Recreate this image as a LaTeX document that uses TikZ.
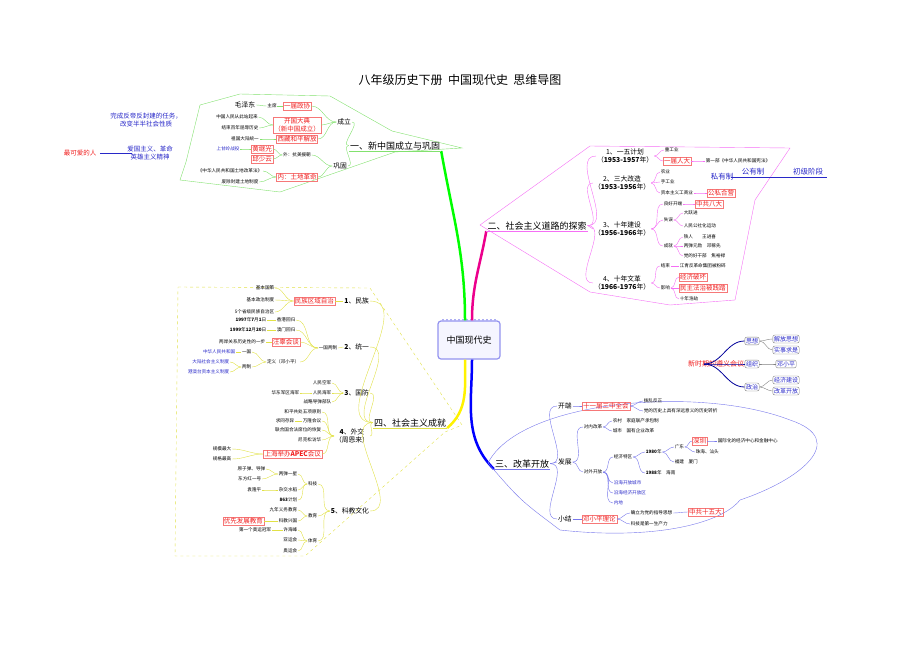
\documentclass[tikz,border=0pt]{standalone}
\usepackage{fontspec}
\setmainfont{Noto Sans CJK SC}
\usetikzlibrary{positioning}
\tikzset{>=latex}
\definecolor{mygreen}{RGB}{130,225,110}
\definecolor{mymagenta}{RGB}{245,110,245}
\definecolor{myblue}{RGB}{120,120,235}
\definecolor{myyellow}{RGB}{225,225,70}
\definecolor{myred}{RGB}{240,30,30}
\definecolor{myink}{RGB}{40,40,200}
\tikzset{
  lf/.style={inner sep=0.6pt,font=\fontsize{4.6}{5.4}\selectfont},
  md/.style={inner sep=0.8pt,font=\fontsize{6.8}{8}\selectfont,align=center},
  sec/.style={inner sep=1pt,font=\fontsize{9}{10}\selectfont},
  rd/.style={draw=myred!60,inner sep=1pt,text=myred,font=\fontsize{6.5}{7.5}\selectfont,align=center},
  bl/.style={lf,text=myink},
  rbx/.style={draw=gray,rounded corners=2pt,inner sep=1.2pt,text=myink,font=\fontsize{6}{7}\selectfont},
}
\begin{document}
\begin{tikzpicture}[x=1pt,y=-1pt]
  \useasboundingbox (0,0) rectangle (920,651);

  % title
  \node[font=\fontsize{12}{14}\selectfont] (title) at (460,80) {八年级历史下册\ \ 中国现代史\ \ 思维导图};

  % centre
  \node[draw=myblue!80,very thick,fill=blue!4,rounded corners=3pt,minimum width=62,minimum height=38,
    font=\fontsize{9}{10}\selectfont] (root) at (469,340) {中国现代史};
  \draw[myblue!60,dotted,line width=2pt] ([xshift=5]root.north west) -- ([xshift=-5]root.north east);

  % main branches
  \node[sec,anchor=south] (s1) at (395,151) {一、新中国成立与巩固};
  \node[sec,anchor=south] (s2) at (537,231) {二、社会主义道路的探索};
  \node[sec,anchor=south] (s3) at (522,469) {三、改革开放};
  \node[sec,anchor=south] (s4) at (410,428) {四、社会主义成就};
  \draw[green,line width=2.5pt] ([xshift=-4]root.north) to[out=90,in=-80] (s1.south east);
  \draw[magenta,line width=2.5pt] ([xshift=3]root.north) to[out=90,in=-100] (s2.south west);
  \draw[blue,line width=2.5pt] ([xshift=3]root.south) to[out=-90,in=135] (s3.south west);
  \draw[yellow,line width=2.5pt] ([xshift=-4]root.south) to[out=-90,in=40] (s4.south east);
  \foreach \s/\c in {s1/mygreen,s2/mymagenta,s3/myblue,s4/myyellow}
    \draw[\c] (\s.south west) -- (\s.south east);

  % ---------- 一 ----------
  \draw[mygreen] (200,105) -- (240,94) -- (330,96) -- (392,131) -- (462,148) -- (395,152)
    -- (280,192) -- (180,180) -- (186,162) -- cycle;
  \node[md,anchor=east] (a1) at (352,122) {成立};
  \node[md,anchor=east] (a2) at (348,166) {巩固};
  \node[rd] (a11) at (297,106) {一届政协};
  \node[lf] (a111) at (272,106) {主席};
  \node[md] (a112) at (245,105) {毛泽东};
  \node[rd] (a12) at (297,125) {开国大典\\（新中国成立）};
  \node[lf] (a121) at (237,117) {中国人民从此站起来};
  \node[lf] (a122) at (240,128) {结束百年屈辱历史};
  \node[rd] (a13) at (297,139) {西藏和平解放};
  \node[lf] (a131) at (245,139) {祖国大陆统一};
  \node[lf] (a21) at (297,155) {外：抗美援朝};
  \node[rd] (a211) at (262,149) {黄继光};
  \node[rd] (a212) at (262,159) {邱少云};
  \node[bl] (a2111) at (228,149) {上甘岭战役};
  \node[rd] (a22) at (297,177) {内：土地革命};
  \node[lf] (a221) at (230,171) {《中华人民共和国土地改革法》};
  \node[lf] (a222) at (240,182) {废除封建土地制度};
  \foreach \a/\b in {s1/a1,s1/a2,a1/a11,a1/a12,a1/a13,a11/a111,a111/a112,a12/a121,a12/a122,
    a13/a131,a2/a21,a2/a22,a21/a211,a21/a212,a211/a2111,a22/a221,a22/a222}
    \draw[mygreen] (\a.west) to[out=180,in=0] (\b.east);
  \node[font=\fontsize{6.5}{8}\selectfont,text=myink,align=center] (b1) at (146,120)
    {完成反帝反封建的任务，\\改变半半社会性质};
  \node[font=\fontsize{6.5}{7.5}\selectfont,text=myred] (b2) at (80,153) {最可爱的人};
  \node[font=\fontsize{6.5}{8}\selectfont,text=myink,align=center] (b3) at (150,153)
    {爱国主义、革命\\英雄主义精神};
  \draw[myink] (b2.east) -- ([xshift=8]b3.west);

  % ---------- 二 ----------
  \draw[mymagenta] (480,225) -- (590,146) -- (790,148) -- (755,200) -- (735,300) -- (670,305)
    -- (590,292) -- cycle;
  \node[md,anchor=west] (c1) at (596,156) {1、一五计划\\（\textbf{1953-1957}年）};
  \node[md,anchor=west] (c2) at (593,183) {2、三大改造\\（\textbf{1953-1956}年）};
  \node[md,anchor=west] (c3) at (593,229) {3、十年建设\\（\textbf{1956-1966}年）};
  \node[md,anchor=west] (c4) at (593,283) {4、十年文革\\（\textbf{1966-1976}年）};
  \node[lf,anchor=west] (c11) at (664,150) {重工业};
  \node[rd,anchor=west] (c12) at (663,161) {一届人大};
  \node[lf,anchor=west] (c121) at (705,161) {第一部《中华人民共和国宪法》};
  \node[lf,anchor=west] (c21) at (660,172) {农业};
  \node[lf,anchor=west] (c22) at (660,182) {手工业};
  \node[lf,anchor=west] (c23) at (660,193) {资本主义工商业};
  \node[rd,anchor=west] (c231) at (707,193) {公私合营};
  \node[font=\fontsize{7.5}{8}\selectfont,text=myink] (c24) at (722,177) {私有制};
  \node[font=\fontsize{7.5}{8}\selectfont,text=myink] (c25) at (753,172) {公有制};
  \node[font=\fontsize{7.5}{8}\selectfont,text=myink] (c26) at (808,172) {初级阶段};
  \draw[myink] ([xshift=-6]c24.east) -- (c26.south east |- c24.east);
  \node[lf,anchor=west] (c31) at (663,204) {良好开端};
  \node[rd,anchor=west] (c311) at (695,204) {中共八大};
  \node[lf,anchor=west] (c32) at (663,220) {失误};
  \node[lf,anchor=west] (c321) at (683,213) {大跃进};
  \node[lf,anchor=west] (c322) at (683,226) {人民公社化运动};
  \node[lf,anchor=west] (c33) at (663,246) {成就};
  \node[lf,anchor=west] (c331) at (683,237) {铁人\qquad 王进喜};
  \node[lf,anchor=west] (c332) at (683,246) {两弹元勋\quad 邓稼先};
  \node[lf,anchor=west] (c333) at (683,256) {党的好干部\quad 焦裕禄};
  \node[lf,anchor=west] (c41) at (660,266) {结束};
  \node[lf,anchor=west] (c411) at (679,266) {江青反革命集团被粉碎};
  \node[lf,anchor=west] (c42) at (660,288) {影响};
  \node[rd,anchor=west] (c421) at (679,277) {经济破坏};
  \node[rd,anchor=west] (c422) at (679,288) {民主法治被践踏};
  \node[lf,anchor=west] (c423) at (679,299) {十年浩劫};
  \foreach \a/\b in {s2/c1,s2/c2,s2/c3,s2/c4,c1/c11,c1/c12,c12/c121,c2/c21,c2/c22,c2/c23,c23/c231,
    c3/c31,c3/c32,c3/c33,c31/c311,c32/c321,c32/c322,c33/c331,c33/c332,c33/c333,
    c4/c41,c4/c42,c41/c411,c42/c421,c42/c422,c42/c423}
    \draw[mymagenta] (\a.east) to[out=0,in=180] (\b.west);

  % ---------- 三 ----------
  \draw[myblue] (488,463) .. controls (520,400) and (700,385) .. (790,420)
    .. controls (850,440) and (800,480) .. (740,500) .. controls (720,525) and (650,540) .. (560,530)
    .. controls (520,500) .. (488,463);
  \node[md,anchor=west] (d1) at (557,406) {开端};
  \node[md,anchor=west] (d2) at (557,462) {发展};
  \node[md,anchor=west] (d3) at (557,519) {小结};
  \node[rd,anchor=west] (d11) at (582,406) {十一届三中全会};
  \node[lf,anchor=west] (d111) at (643,401) {拨乱反正};
  \node[lf,anchor=west] (d112) at (643,411) {党的历史上具有深远意义的历史转折};
  \node[lf,anchor=west] (d21) at (583,427) {对内改革};
  \node[lf,anchor=west] (d211) at (612,421) {农村\quad 家庭联产承包制};
  \node[lf,anchor=west] (d212) at (612,431) {城市\quad 国有企业改革};
  \node[lf,anchor=west] (d22) at (583,472) {对外开放};
  \node[lf,anchor=west] (d221) at (613,457) {经济特区};
  \node[lf,anchor=west] (d2211) at (645,452) {\textbf{1980}年};
  \node[lf,anchor=west] (d2212) at (645,473) {\textbf{1988}年\quad 海南};
  \node[lf,anchor=west] (d22111) at (674,447) {广东};
  \node[rd,anchor=west] (d22112) at (692,441) {深圳};
  \node[lf,anchor=west] (d22113) at (717,441) {国际化的经济中心和金融中心};
  \node[lf,anchor=west] (d22114) at (695,452) {珠海、汕头};
  \node[lf,anchor=west] (d22115) at (674,462) {福建\quad 厦门};
  \node[bl,anchor=west] (d222) at (613,483) {沿海开放城市};
  \node[bl,anchor=west] (d223) at (613,493) {沿海经济开放区};
  \node[bl,anchor=west] (d224) at (613,503) {内地};
  \node[rd,anchor=west] (d31) at (582,519) {邓小平理论};
  \node[lf,anchor=west] (d311) at (630,513) {确立为党的指导思想};
  \node[rd,anchor=west] (d3111) at (688,512) {中共十五大};
  \node[lf,anchor=west] (d312) at (630,524) {科技是第一生产力};
  \foreach \a/\b in {s3/d1,s3/d2,s3/d3,d1/d11,d11/d111,d11/d112,d2/d21,d2/d22,d21/d211,d21/d212,
    d22/d221,d221/d2211,d221/d2212,d2211/d22111,d2211/d22115,d22111/d22112,d22112/d22113,
    d22111/d22114,d22/d222,d22/d223,d22/d224,d3/d31,d31/d311,d311/d3111,d31/d312}
    \draw[myblue] (\a.east) to[out=0,in=180] (\b.west);

  % 新时期的遵义会议
  \node[font=\fontsize{7}{8}\selectfont,text=myred] (e0) at (716,364) {新时期的遵义会议};
  \node[rbx] (e1) at (752,341) {思想};
  \node[rbx] (e2) at (752,364) {组织};
  \node[rbx] (e3) at (752,387) {政治};
  \node[rbx] (e11) at (786,339) {解放思想};
  \node[rbx] (e12) at (786,350) {实事求是};
  \node[rbx] (e21) at (786,364) {邓小平};
  \node[rbx] (e31) at (786,380) {经济建设};
  \node[rbx] (e32) at (786,391) {改革开放};
  \foreach \b in {e1,e2,e3}
    \draw[blue!60!black,thick] (704,364) to[out=0,in=180] (\b.west);
  \foreach \a/\b in {e1/e11,e1/e12,e2/e21,e3/e31,e3/e32}
    \draw[gray] (\a.east) to[out=0,in=180] (\b.west);

  % ---------- 四 ----------
  \draw[myyellow,dashed] (178,287) -- (370,288) -- (462,425) -- (445,432) -- (305,556)
    -- (175,556) -- cycle;
  \node[md,anchor=east] (f1) at (370,301) {\textbf{1}、民族};
  \node[md,anchor=east] (f2) at (370,347) {\textbf{2}、统一};
  \node[md,anchor=east] (f3) at (370,393) {\textbf{3}、国防};
  \node[md,anchor=east] (f4) at (370,436) {\textbf{4}、外交\\（周恩来）};
  \node[md,anchor=east] (f5) at (370,511) {\textbf{5}、科教文化};
  \node[rd,anchor=east] (f11) at (335,301) {民族区域自治};
  \node[lf,anchor=east] (f111) at (275,288) {基本国策};
  \node[lf,anchor=east] (f112) at (275,300) {基本政治制度};
  \node[lf,anchor=east] (f113) at (275,312) {5个省级民族自治区};
  \node[lf,anchor=east] (f21) at (338,348) {一国两制};
  \node[lf,anchor=east] (f211) at (296,320) {香港回归};
  \node[lf,anchor=east] (f2111) at (267,320) {\textbf{1997}年\textbf{7}月\textbf{1}日};
  \node[lf,anchor=east] (f212) at (296,330) {澳门回归};
  \node[lf,anchor=east] (f2121) at (267,330) {\textbf{1999}年\textbf{12}月\textbf{20}日};
  \node[rd,anchor=east] (f213) at (300,342) {汪辜会谈};
  \node[lf,anchor=east] (f2131) at (266,342) {两岸关系历史性的一步};
  \node[lf,anchor=east] (f214) at (300,362) {定义（邓小平）};
  \node[lf,anchor=east] (f2141) at (252,352) {一国};
  \node[bl,anchor=east] (f21411) at (236,352) {中华人民共和国};
  \node[lf,anchor=east] (f2142) at (252,367) {两制};
  \node[bl,anchor=east] (f21421) at (230,362) {大陆社会主义制度};
  \node[bl,anchor=east] (f21422) at (230,372) {港澳台资本主义制度};
  \node[lf,anchor=east] (f31) at (332,383) {人民空军};
  \node[lf,anchor=east] (f32) at (332,393) {人民海军};
  \node[lf,anchor=east] (f321) at (300,393) {华东军区海军};
  \node[lf,anchor=east] (f33) at (332,402) {战略导弹部队};
  \node[lf,anchor=east] (f41) at (322,412) {和平共处五项原则};
  \node[lf,anchor=east] (f42) at (322,421) {万隆会议};
  \node[lf,anchor=east] (f421) at (295,421) {求同存异};
  \node[lf,anchor=east] (f43) at (322,430) {联合国合法席位的恢复};
  \node[lf,anchor=east] (f44) at (322,440) {尼克松访华};
  \node[rd,anchor=east] (f45) at (322,454) {上海举办\textbf{APEC}会议};
  \node[lf,anchor=east] (f451) at (232,449) {规模最大};
  \node[lf,anchor=east] (f452) at (232,459) {规格最高};
  \node[lf,anchor=east] (f51) at (318,484) {科技};
  \node[lf,anchor=east] (f511) at (298,474) {两弹一星};
  \node[lf,anchor=east] (f5111) at (266,469) {原子弹、导弹};
  \node[lf,anchor=east] (f5112) at (262,479) {东方红一号};
  \node[lf,anchor=east] (f512) at (298,490) {杂交水稻};
  \node[lf,anchor=east] (f5121) at (262,490) {袁隆平};
  \node[lf,anchor=east] (f513) at (298,500) {\textbf{863}计划};
  \node[lf,anchor=east] (f52) at (318,516) {教育};
  \node[lf,anchor=east] (f521) at (298,510) {九年义务教育};
  \node[lf,anchor=east] (f522) at (298,521) {科教兴国};
  \node[rd,anchor=east] (f5221) at (264,521) {优先发展教育};
  \node[lf,anchor=east] (f53) at (318,541) {体育};
  \node[lf,anchor=east] (f531) at (298,530) {许海峰};
  \node[lf,anchor=east] (f5311) at (272,530) {第一个奥运冠军};
  \node[lf,anchor=east] (f532) at (298,540) {亚运会};
  \node[lf,anchor=east] (f533) at (298,551) {奥运会};
  \foreach \a/\b in {s4/f1,s4/f2,s4/f3,s4/f4,s4/f5,f1/f11,f11/f111,f11/f112,f11/f113,f2/f21,
    f21/f211,f211/f2111,f21/f212,f212/f2121,f21/f213,f213/f2131,f21/f214,f214/f2141,f2141/f21411,
    f214/f2142,f2142/f21421,f2142/f21422,f3/f31,f3/f32,f32/f321,f3/f33,f4/f41,f4/f42,f42/f421,
    f4/f43,f4/f44,f4/f45,f45/f451,f45/f452,f5/f51,f51/f511,f511/f5111,f511/f5112,f51/f512,
    f512/f5121,f51/f513,f5/f52,f52/f521,f52/f522,f522/f5221,f5/f53,f53/f531,f531/f5311,f53/f532,f53/f533}
    \draw[myyellow] (\a.west) to[out=180,in=0] (\b.east);
\end{tikzpicture}
\end{document}
